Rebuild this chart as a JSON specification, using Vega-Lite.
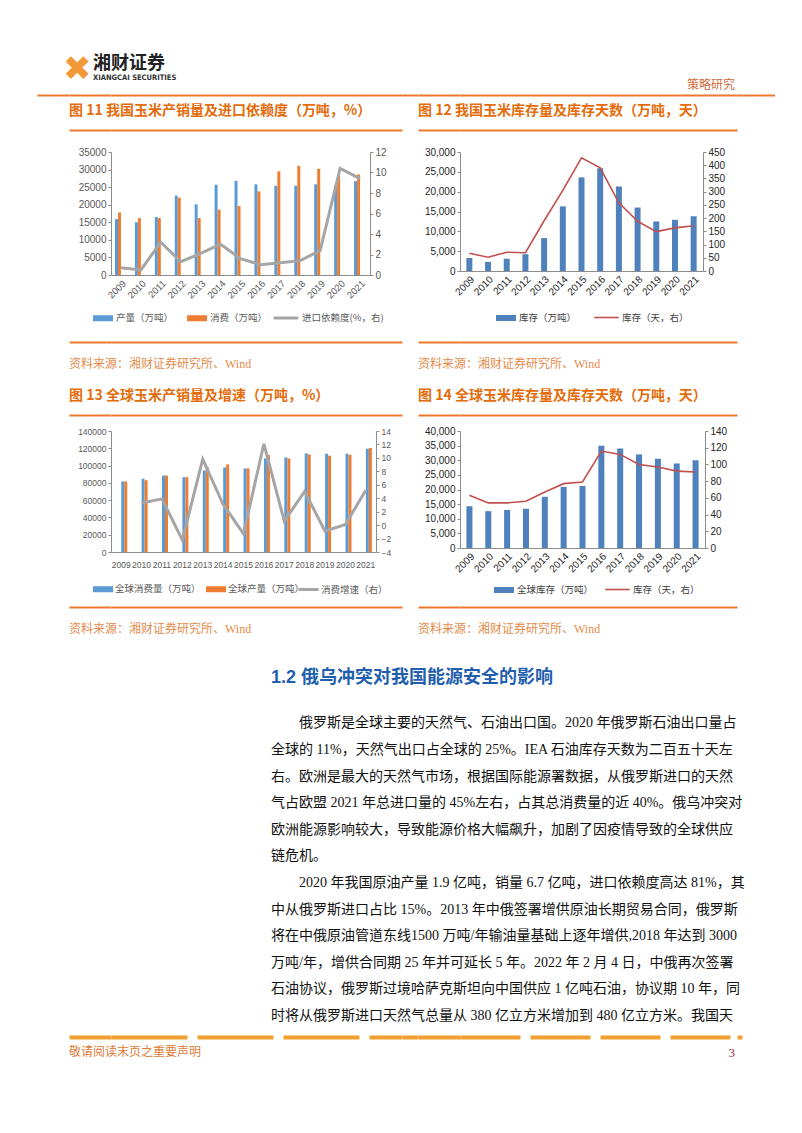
{
"$schema": "https://vega.github.io/schema/vega-lite/v6.json",
"background": "white",
"padding": 0,
"columns": 9,
"spacing": 0,
"bounds": "flush",
"align": "each",
"resolve": {"scale": {"color": "independent", "stroke": "independent"}, "legend": {"color": "independent", "stroke": "independent"}},
"datasets": {
"c1b": [
{"year":"2009","s":"产量（万吨）","v":15900},{"year":"2010","s":"产量（万吨）","v":15000},{"year":"2011","s":"产量（万吨）","v":16500},{"year":"2012","s":"产量（万吨）","v":22600},{"year":"2013","s":"产量（万吨）","v":20100},{"year":"2014","s":"产量（万吨）","v":25700},{"year":"2015","s":"产量（万吨）","v":26800},{"year":"2016","s":"产量（万吨）","v":25800},{"year":"2017","s":"产量（万吨）","v":25400},{"year":"2018","s":"产量（万吨）","v":25400},{"year":"2019","s":"产量（万吨）","v":25800},{"year":"2020","s":"产量（万吨）","v":25500},{"year":"2021","s":"产量（万吨）","v":26700},
{"year":"2009","s":"消费（万吨）","v":17800},{"year":"2010","s":"消费（万吨）","v":16200},{"year":"2011","s":"消费（万吨）","v":16200},{"year":"2012","s":"消费（万吨）","v":22000},{"year":"2013","s":"消费（万吨）","v":16200},{"year":"2014","s":"消费（万吨）","v":18600},{"year":"2015","s":"消费（万吨）","v":19600},{"year":"2016","s":"消费（万吨）","v":23800},{"year":"2017","s":"消费（万吨）","v":29500},{"year":"2018","s":"消费（万吨）","v":31100},{"year":"2019","s":"消费（万吨）","v":30200},{"year":"2020","s":"消费（万吨）","v":28200},{"year":"2021","s":"消费（万吨）","v":28600}
],
"c1l": [
{"year":"2009","s":"进口依赖度(%，右)","v":0.7},{"year":"2010","s":"进口依赖度(%，右)","v":0.5},{"year":"2011","s":"进口依赖度(%，右)","v":3.2},{"year":"2012","s":"进口依赖度(%，右)","v":1.3},{"year":"2013","s":"进口依赖度(%，右)","v":2.1},{"year":"2014","s":"进口依赖度(%，右)","v":3.0},{"year":"2015","s":"进口依赖度(%，右)","v":1.6},{"year":"2016","s":"进口依赖度(%，右)","v":1.0},{"year":"2017","s":"进口依赖度(%，右)","v":1.2},{"year":"2018","s":"进口依赖度(%，右)","v":1.4},{"year":"2019","s":"进口依赖度(%，右)","v":2.4},{"year":"2020","s":"进口依赖度(%，右)","v":10.4},{"year":"2021","s":"进口依赖度(%，右)","v":9.4}
],
"c2b": [
{"year":"2009","s":"库存（万吨）","v":3300},{"year":"2010","s":"库存（万吨）","v":2300},{"year":"2011","s":"库存（万吨）","v":3100},{"year":"2012","s":"库存（万吨）","v":4200},{"year":"2013","s":"库存（万吨）","v":8300},{"year":"2014","s":"库存（万吨）","v":16300},{"year":"2015","s":"库存（万吨）","v":23600},{"year":"2016","s":"库存（万吨）","v":25900},{"year":"2017","s":"库存（万吨）","v":21300},{"year":"2018","s":"库存（万吨）","v":16000},{"year":"2019","s":"库存（万吨）","v":12500},{"year":"2020","s":"库存（万吨）","v":12900},{"year":"2021","s":"库存（万吨）","v":13800}
],
"c2l": [
{"year":"2009","s":"库存（天，右）","v":67},{"year":"2010","s":"库存（天，右）","v":52},{"year":"2011","s":"库存（天，右）","v":71},{"year":"2012","s":"库存（天，右）","v":69},{"year":"2013","s":"库存（天，右）","v":190},{"year":"2014","s":"库存（天，右）","v":305},{"year":"2015","s":"库存（天，右）","v":428},{"year":"2016","s":"库存（天，右）","v":390},{"year":"2017","s":"库存（天，右）","v":258},{"year":"2018","s":"库存（天，右）","v":188},{"year":"2019","s":"库存（天，右）","v":149},{"year":"2020","s":"库存（天，右）","v":163},{"year":"2021","s":"库存（天，右）","v":171}
],
"c3b": [
{"year":"2009","s":"全球消费量（万吨）","v":81600},{"year":"2010","s":"全球消费量（万吨）","v":84700},{"year":"2011","s":"全球消费量（万吨）","v":88500},{"year":"2012","s":"全球消费量（万吨）","v":86600},{"year":"2013","s":"全球消费量（万吨）","v":94400},{"year":"2014","s":"全球消费量（万吨）","v":97800},{"year":"2015","s":"全球消费量（万吨）","v":96700},{"year":"2016","s":"全球消费量（万吨）","v":108300},{"year":"2017","s":"全球消费量（万吨）","v":109400},{"year":"2018","s":"全球消费量（万吨）","v":114100},{"year":"2019","s":"全球消费量（万吨）","v":113700},{"year":"2020","s":"全球消费量（万吨）","v":113700},{"year":"2021","s":"全球消费量（万吨）","v":119500},
{"year":"2009","s":"全球产量（万吨）","v":81600},{"year":"2010","s":"全球产量（万吨）","v":83100},{"year":"2011","s":"全球产量（万吨）","v":88500},{"year":"2012","s":"全球产量（万吨）","v":86600},{"year":"2013","s":"全球产量（万吨）","v":98200},{"year":"2014","s":"全球产量（万吨）","v":101300},{"year":"2015","s":"全球产量（万吨）","v":96700},{"year":"2016","s":"全球产量（万吨）","v":112100},{"year":"2017","s":"全球产量（万吨）","v":108300},{"year":"2018","s":"全球产量（万吨）","v":112900},{"year":"2019","s":"全球产量（万吨）","v":111400},{"year":"2020","s":"全球产量（万吨）","v":112500},{"year":"2021","s":"全球产量（万吨）","v":120300}
],
"c3l": [
{"year":"2010","s":"消费增速（右）","v":3.3},{"year":"2011","s":"消费增速（右）","v":3.9},{"year":"2012","s":"消费增速（右）","v":-2.2},{"year":"2013","s":"消费增速（右）","v":9.8},{"year":"2014","s":"消费增速（右）","v":3.1},{"year":"2015","s":"消费增速（右）","v":-1.3},{"year":"2016","s":"消费增速（右）","v":12.1},{"year":"2017","s":"消费增速（右）","v":0.6},{"year":"2018","s":"消费增速（右）","v":5.0},{"year":"2019","s":"消费增速（右）","v":-0.9},{"year":"2020","s":"消费增速（右）","v":0.1},{"year":"2021","s":"消费增速（右）","v":5.2}
],
"c4b": [
{"year":"2009","s":"全球库存（万吨）","v":14300},{"year":"2010","s":"全球库存（万吨）","v":12600},{"year":"2011","s":"全球库存（万吨）","v":13000},{"year":"2012","s":"全球库存（万吨）","v":13400},{"year":"2013","s":"全球库存（万吨）","v":17500},{"year":"2014","s":"全球库存（万吨）","v":20900},{"year":"2015","s":"全球库存（万吨）","v":21200},{"year":"2016","s":"全球库存（万吨）","v":35000},{"year":"2017","s":"全球库存（万吨）","v":34000},{"year":"2018","s":"全球库存（万吨）","v":32000},{"year":"2019","s":"全球库存（万吨）","v":30500},{"year":"2020","s":"全球库存（万吨）","v":28900},{"year":"2021","s":"全球库存（万吨）","v":30000}
],
"c4l": [
{"year":"2009","s":"库存（天，右）","v":63},{"year":"2010","s":"库存（天，右）","v":54},{"year":"2011","s":"库存（天，右）","v":54},{"year":"2012","s":"库存（天，右）","v":56},{"year":"2013","s":"库存（天，右）","v":67},{"year":"2014","s":"库存（天，右）","v":77},{"year":"2015","s":"库存（天，右）","v":79},{"year":"2016","s":"库存（天，右）","v":116},{"year":"2017","s":"库存（天，右）","v":112},{"year":"2018","s":"库存（天，右）","v":100},{"year":"2019","s":"库存（天，右）","v":97},{"year":"2020","s":"库存（天，右）","v":92},{"year":"2021","s":"库存（天，右）","v":91}
]
},
"concat": [
{"width": 37, "height": 130, "data": {"values": []}, "mark": "point", "encoding": {}},
{"width": 32, "height": 95, "data": {"values": []}, "mark": "point", "encoding": {"x": {"field": "v", "type": "quantitative", "scale": {"domain": [0, 1]}, "axis": {"orient": "bottom", "domainColor": "#ec7a2c", "domainWidth": 2, "labels": false, "ticks": false, "title": null}}},
 "title": {"text": "✖", "anchor": "start", "orient": "top", "offset": -87, "dx": 26, "fontSize": 34, "fontWeight": "normal", "color": "#f29a38", "font": "DejaVu Sans"}},
{"width": 42, "height": 95, "data": {"values": []}, "mark": "point", "encoding": {"x": {"field": "v", "type": "quantitative", "scale": {"domain": [0, 1]}, "axis": {"orient": "bottom", "domainColor": "#ec7a2c", "domainWidth": 2, "labels": false, "ticks": false, "title": null}}},
 "title": {"text": "湘财证券", "subtitle": "XIANGCAI SECURITIES", "anchor": "start", "orient": "top", "offset": -81, "dx": 24, "fontSize": 18, "fontWeight": "bold", "color": "#222222", "font": "Noto Sans CJK SC", "subtitleFont": "Liberation Sans Narrow, DejaVu Sans Condensed, sans-serif", "subtitleFontSize": 7.5, "subtitleFontWeight": "bold", "subtitleColor": "#333333", "subtitlePadding": 1}},
{"width": 291, "height": 95, "data": {"values": []}, "mark": "point", "encoding": {"x": {"field": "v", "type": "quantitative", "scale": {"domain": [0, 1]}, "axis": {"orient": "bottom", "domainColor": "#ec7a2c", "domainWidth": 2, "labels": false, "ticks": false, "title": null}}}},
{"width": 16, "height": 95, "data": {"values": []}, "mark": "point", "encoding": {"x": {"field": "v", "type": "quantitative", "scale": {"domain": [0, 1]}, "axis": {"orient": "bottom", "domainColor": "#ec7a2c", "domainWidth": 2, "labels": false, "ticks": false, "title": null}}}},
{"width": 42, "height": 95, "data": {"values": []}, "mark": "point", "encoding": {"x": {"field": "v", "type": "quantitative", "scale": {"domain": [0, 1]}, "axis": {"orient": "bottom", "domainColor": "#ec7a2c", "domainWidth": 2, "labels": false, "ticks": false, "title": null}}}},
{"width": 277, "height": 95, "data": {"values": []}, "mark": "point", "encoding": {"x": {"field": "v", "type": "quantitative", "scale": {"domain": [0, 1]}, "axis": {"orient": "bottom", "domainColor": "#ec7a2c", "domainWidth": 2, "labels": false, "ticks": false, "title": null}}},
 "title": {"text": "策略研究", "anchor": "end", "orient": "top", "offset": -92, "dx": -2, "fontSize": 12, "fontWeight": "normal", "color": "#cf6b3a", "font": "Noto Sans CJK SC"}},
{"width": 5, "height": 95, "data": {"values": []}, "mark": "point", "encoding": {"x": {"field": "v", "type": "quantitative", "scale": {"domain": [0, 1]}, "axis": {"orient": "bottom", "domainColor": "#ec7a2c", "domainWidth": 2, "labels": false, "ticks": false, "title": null}}}},
{"width": 33, "height": 95, "data": {"values": []}, "mark": "point", "encoding": {"x": {"field": "v", "type": "quantitative", "scale": {"domain": [0, 1]}, "axis": {"orient": "bottom", "domainColor": "#ec7a2c", "domainWidth": 2, "labels": false, "ticks": false, "title": null}}}},

{"width": 37, "height": 22, "data": {"values": []}, "mark": "point", "encoding": {}},
{"width": 32, "height": 1, "data": {"values": []}, "mark": "point", "encoding": {}},
{"width": 42, "height": 1, "data": {"values": []}, "mark": "point", "encoding": {"x": {"field": "v", "type": "quantitative", "scale": {"domain": [0, 1]}, "axis": {"orient": "top", "title": null}}},
 "title": {"text": "图 11 我国玉米产销量及进口依赖度（万吨，%）", "anchor": "start", "orient": "top", "offset": 12, "fontSize": 14, "fontWeight": "bold", "color": "#e46c0a", "font": "Noto Sans CJK SC"}},
{"width": 291, "height": 1, "data": {"values": []}, "mark": "point", "encoding": {"x": {"field": "v", "type": "quantitative", "scale": {"domain": [0, 1]}, "axis": {"orient": "top", "title": null}}}},
{"width": 16, "height": 1, "data": {"values": []}, "mark": "point", "encoding": {}},
{"width": 42, "height": 1, "data": {"values": []}, "mark": "point", "encoding": {"x": {"field": "v", "type": "quantitative", "scale": {"domain": [0, 1]}, "axis": {"orient": "top", "title": null}}},
 "title": {"text": "图 12 我国玉米库存量及库存天数（万吨，天）", "anchor": "start", "orient": "top", "offset": 12, "fontSize": 14, "fontWeight": "bold", "color": "#e46c0a", "font": "Noto Sans CJK SC"}},
{"width": 277, "height": 1, "data": {"values": []}, "mark": "point", "encoding": {"x": {"field": "v", "type": "quantitative", "scale": {"domain": [0, 1]}, "axis": {"orient": "top", "title": null}}}},
{"width": 5, "height": 1, "data": {"values": []}, "mark": "point", "encoding": {}},
{"width": 33, "height": 1, "data": {"values": []}, "mark": "point", "encoding": {}},

{"width": 37, "height": 190, "data": {"values": []}, "mark": "point", "encoding": {}},
{"width": 32, "height": 1, "data": {"values": []}, "mark": "point", "encoding": {}},
{"width": 42, "height": 1, "data": {"values": []}, "mark": "point", "encoding": {}},
{"width": 259, "height": 123,
 "layer": [
  {"data": {"name": "c1b"}, "mark": {"type": "bar"},
   "encoding": {
    "x": {"field": "year", "type": "ordinal", "scale": {"paddingInner": 0.4, "paddingOuter": 0.2}, "axis": {"title": null, "labelAngle": -45, "labelFontSize": 9.5, "ticks": false, "labelPadding": 3}},
    "xOffset": {"field": "s", "type": "nominal", "scale": {"domain": ["产量（万吨）", "消费（万吨）"], "paddingInner": 0, "paddingOuter": 0}},
    "y": {"field": "v", "type": "quantitative", "scale": {"domain": [0, 35000], "nice": false}, "axis": {"title": null, "values": [0, 5000, 10000, 15000, 20000, 25000, 30000, 35000], "format": "d", "labelFontSize": 10}},
    "color": {"field": "s", "type": "nominal", "scale": {"domain": ["产量（万吨）", "消费（万吨）"], "range": ["#5b9bd5", "#ed7d31"]},
      "legend": {"orient": "none", "legendX": -19, "legendY": 155, "direction": "horizontal", "title": null, "symbolType": "M-1,-0.3H1V0.3H-1Z", "symbolSize": 400, "columnPadding": 12, "labelOffset": 2}}
   }},
  {"data": {"name": "c1l"}, "mark": {"type": "line", "strokeWidth": 3},
   "encoding": {
    "x": {"field": "year", "type": "ordinal"},
    "y": {"field": "v", "type": "quantitative", "scale": {"domain": [0, 12], "nice": false}, "axis": {"orient": "right", "title": null, "values": [0, 2, 4, 6, 8, 10, 12], "labelFontSize": 10}},
    "stroke": {"field": "s", "type": "nominal", "scale": {"range": ["#a5a5a5"]},
      "legend": {"orient": "none", "legendX": 161, "legendY": 152, "title": null, "symbolType": "stroke", "symbolSize": 600, "symbolStrokeWidth": 3, "labelOffset": 2}}
   }}
 ],
 "resolve": {"scale": {"y": "independent"}}},
{"width": 16, "height": 1, "data": {"values": []}, "mark": "point", "encoding": {}},
{"width": 42, "height": 1, "data": {"values": []}, "mark": "point", "encoding": {}},
{"width": 243, "height": 119,
 "layer": [
  {"data": {"name": "c2b"}, "mark": {"type": "bar"},
   "encoding": {
    "x": {"field": "year", "type": "ordinal", "scale": {"paddingInner": 0.68, "paddingOuter": 0.34}, "axis": {"title": null, "labelAngle": -45, "labelFontSize": 10, "ticks": false, "labelPadding": 3, "labelColor": "#262626"}},
    "y": {"field": "v", "type": "quantitative", "scale": {"domain": [0, 30000], "nice": false}, "axis": {"title": null, "values": [0, 5000, 10000, 15000, 20000, 25000, 30000], "format": ",d", "labelFontSize": 10, "labelColor": "#262626"}},
    "color": {"field": "s", "type": "nominal", "scale": {"range": ["#4f81bd"]},
      "legend": {"orient": "none", "legendX": 35, "legendY": 155, "direction": "horizontal", "title": null, "symbolType": "M-1,-0.3H1V0.3H-1Z", "symbolSize": 400, "labelOffset": 2, "labelColor": "#404040"}}
   }},
  {"data": {"name": "c2l"}, "mark": {"type": "line", "strokeWidth": 1.6},
   "encoding": {
    "x": {"field": "year", "type": "ordinal"},
    "y": {"field": "v", "type": "quantitative", "scale": {"domain": [0, 450], "nice": false}, "axis": {"orient": "right", "title": null, "values": [0, 50, 100, 150, 200, 250, 300, 350, 400, 450], "labelFontSize": 10, "labelColor": "#262626"}},
    "stroke": {"field": "s", "type": "nominal", "scale": {"range": ["#c0504d"]},
      "legend": {"orient": "none", "legendX": 133, "legendY": 152, "title": null, "symbolType": "stroke", "symbolSize": 600, "symbolStrokeWidth": 1.6, "labelOffset": 2, "labelColor": "#404040"}}
   }}
 ],
 "resolve": {"scale": {"y": "independent"}}},
{"width": 5, "height": 1, "data": {"values": []}, "mark": "point", "encoding": {}},
{"width": 33, "height": 1, "data": {"values": []}, "mark": "point", "encoding": {}},

{"width": 37, "height": 73, "data": {"values": []}, "mark": "point", "encoding": {}},
{"width": 32, "height": 1, "data": {"values": []}, "mark": "point", "encoding": {}},
{"width": 42, "height": 1, "data": {"values": []}, "mark": "point", "encoding": {"x": {"field": "v", "type": "quantitative", "scale": {"domain": [0, 1]}, "axis": {"orient": "top", "title": null}}},
 "title": {"text": "资料来源：湘财证券研究所、Wind", "anchor": "start", "orient": "bottom", "offset": 15.5, "fontSize": 12, "fontWeight": "normal", "color": "#e38b4c", "font": "Liberation Serif, Noto Sans CJK SC"}},
{"width": 291, "height": 1, "data": {"values": []}, "mark": "point", "encoding": {"x": {"field": "v", "type": "quantitative", "scale": {"domain": [0, 1]}, "axis": {"orient": "top", "title": null}}}},
{"width": 16, "height": 1, "data": {"values": []}, "mark": "point", "encoding": {}},
{"width": 42, "height": 1, "data": {"values": []}, "mark": "point", "encoding": {"x": {"field": "v", "type": "quantitative", "scale": {"domain": [0, 1]}, "axis": {"orient": "top", "title": null}}},
 "title": {"text": "资料来源：湘财证券研究所、Wind", "anchor": "start", "orient": "bottom", "offset": 15.5, "fontSize": 12, "fontWeight": "normal", "color": "#e38b4c", "font": "Liberation Serif, Noto Sans CJK SC"}},
{"width": 277, "height": 1, "data": {"values": []}, "mark": "point", "encoding": {"x": {"field": "v", "type": "quantitative", "scale": {"domain": [0, 1]}, "axis": {"orient": "top", "title": null}}}},
{"width": 5, "height": 1, "data": {"values": []}, "mark": "point", "encoding": {}},
{"width": 33, "height": 1, "data": {"values": []}, "mark": "point", "encoding": {}},

{"width": 37, "height": 16, "data": {"values": []}, "mark": "point", "encoding": {}},
{"width": 32, "height": 1, "data": {"values": []}, "mark": "point", "encoding": {}},
{"width": 42, "height": 1, "data": {"values": []}, "mark": "point", "encoding": {"x": {"field": "v", "type": "quantitative", "scale": {"domain": [0, 1]}, "axis": {"orient": "top", "title": null}}},
 "title": {"text": "图 13 全球玉米产销量及增速（万吨，%）", "anchor": "start", "orient": "top", "offset": 12, "fontSize": 14, "fontWeight": "bold", "color": "#e46c0a", "font": "Noto Sans CJK SC"}},
{"width": 291, "height": 1, "data": {"values": []}, "mark": "point", "encoding": {"x": {"field": "v", "type": "quantitative", "scale": {"domain": [0, 1]}, "axis": {"orient": "top", "title": null}}}},
{"width": 16, "height": 1, "data": {"values": []}, "mark": "point", "encoding": {}},
{"width": 42, "height": 1, "data": {"values": []}, "mark": "point", "encoding": {"x": {"field": "v", "type": "quantitative", "scale": {"domain": [0, 1]}, "axis": {"orient": "top", "title": null}}},
 "title": {"text": "图 14 全球玉米库存量及库存天数（万吨，天）", "anchor": "start", "orient": "top", "offset": 12, "fontSize": 14, "fontWeight": "bold", "color": "#e46c0a", "font": "Noto Sans CJK SC"}},
{"width": 277, "height": 1, "data": {"values": []}, "mark": "point", "encoding": {"x": {"field": "v", "type": "quantitative", "scale": {"domain": [0, 1]}, "axis": {"orient": "top", "title": null}}}},
{"width": 5, "height": 1, "data": {"values": []}, "mark": "point", "encoding": {}},
{"width": 33, "height": 1, "data": {"values": []}, "mark": "point", "encoding": {}},

{"width": 37, "height": 176, "data": {"values": []}, "mark": "point", "encoding": {}},
{"width": 32, "height": 1, "data": {"values": []}, "mark": "point", "encoding": {}},
{"width": 42, "height": 1, "data": {"values": []}, "mark": "point", "encoding": {}},
{"width": 265, "height": 121,
 "layer": [
  {"data": {"name": "c3b"}, "mark": {"type": "bar"},
   "encoding": {
    "x": {"field": "year", "type": "ordinal", "scale": {"paddingInner": 0.42, "paddingOuter": 0.21}, "axis": {"title": null, "labelAngle": 0, "labelFontSize": 8.5, "ticks": false, "labelPadding": 8}},
    "xOffset": {"field": "s", "type": "nominal", "scale": {"domain": ["全球消费量（万吨）", "全球产量（万吨）"], "paddingInner": 0, "paddingOuter": 0}},
    "y": {"field": "v", "type": "quantitative", "scale": {"domain": [0, 140000], "nice": false}, "axis": {"title": null, "values": [0, 20000, 40000, 60000, 80000, 100000, 120000, 140000], "format": "d", "labelFontSize": 8.5}},
    "color": {"field": "s", "type": "nominal", "scale": {"domain": ["全球消费量（万吨）", "全球产量（万吨）"], "range": ["#5b9bd5", "#ed7d31"]},
      "legend": {"orient": "none", "legendX": -19, "legendY": 147, "direction": "horizontal", "title": null, "symbolType": "M-1,-0.3H1V0.3H-1Z", "symbolSize": 400, "columnPadding": 4, "labelOffset": 1}}
   }},
  {"data": {"name": "c3l"}, "mark": {"type": "line", "strokeWidth": 3},
   "encoding": {
    "x": {"field": "year", "type": "ordinal"},
    "y": {"field": "v", "type": "quantitative", "scale": {"domain": [-4, 14], "nice": false, "zero": false}, "axis": {"orient": "right", "title": null, "values": [-4, -2, 0, 2, 4, 6, 8, 10, 12, 14], "labelFontSize": 8.5}},
    "stroke": {"field": "s", "type": "nominal", "scale": {"range": ["#a5a5a5"]},
      "legend": {"orient": "none", "legendX": 186, "legendY": 147, "title": null, "symbolType": "stroke", "symbolSize": 400, "symbolStrokeWidth": 3, "labelOffset": 1}}
   }}
 ],
 "resolve": {"scale": {"y": "independent"}}},
{"width": 16, "height": 1, "data": {"values": []}, "mark": "point", "encoding": {}},
{"width": 42, "height": 1, "data": {"values": []}, "mark": "point", "encoding": {}},
{"width": 245, "height": 117,
 "layer": [
  {"data": {"name": "c4b"}, "mark": {"type": "bar"},
   "encoding": {
    "x": {"field": "year", "type": "ordinal", "scale": {"paddingInner": 0.68, "paddingOuter": 0.34}, "axis": {"title": null, "labelAngle": -45, "labelFontSize": 10, "ticks": false, "labelPadding": 3, "labelColor": "#262626"}},
    "y": {"field": "v", "type": "quantitative", "scale": {"domain": [0, 40000], "nice": false}, "axis": {"title": null, "values": [0, 5000, 10000, 15000, 20000, 25000, 30000, 35000, 40000], "format": ",d", "labelFontSize": 10, "labelColor": "#262626"}},
    "color": {"field": "s", "type": "nominal", "scale": {"range": ["#4f81bd"]},
      "legend": {"orient": "none", "legendX": 33, "legendY": 148, "direction": "horizontal", "title": null, "symbolType": "M-1,-0.3H1V0.3H-1Z", "symbolSize": 400, "labelOffset": 2, "labelColor": "#404040"}}
   }},
  {"data": {"name": "c4l"}, "mark": {"type": "line", "strokeWidth": 1.6},
   "encoding": {
    "x": {"field": "year", "type": "ordinal"},
    "y": {"field": "v", "type": "quantitative", "scale": {"domain": [0, 140], "nice": false}, "axis": {"orient": "right", "title": null, "values": [0, 20, 40, 60, 80, 100, 120, 140], "labelFontSize": 10, "labelColor": "#262626"}},
    "stroke": {"field": "s", "type": "nominal", "scale": {"range": ["#c0504d"]},
      "legend": {"orient": "none", "legendX": 144, "legendY": 145, "title": null, "symbolType": "stroke", "symbolSize": 600, "symbolStrokeWidth": 1.6, "labelOffset": 2, "labelColor": "#404040"}}
   }}
 ],
 "resolve": {"scale": {"y": "independent"}}},
{"width": 5, "height": 1, "data": {"values": []}, "mark": "point", "encoding": {}},
{"width": 33, "height": 1, "data": {"values": []}, "mark": "point", "encoding": {}},

{"width": 37, "height": 430, "data": {"values": []}, "mark": "point", "encoding": {}},
{"width": 32, "height": 1, "data": {"values": []}, "mark": "point", "encoding": {}},
{"width": 42, "height": 1, "data": {"values": []}, "mark": "point", "encoding": {"x": {"field": "v", "type": "quantitative", "scale": {"domain": [0, 1]}, "axis": {"orient": "top", "title": null}}},
 "title": {"text": "资料来源：湘财证券研究所、Wind", "anchor": "start", "orient": "bottom", "offset": 15.5, "fontSize": 12, "fontWeight": "normal", "color": "#e38b4c", "font": "Liberation Serif, Noto Sans CJK SC"}},
{"width": 291, "height": 1, "data": {"values": []}, "mark": "point", "encoding": {"x": {"field": "v", "type": "quantitative", "scale": {"domain": [0, 1]}, "axis": {"orient": "top", "title": null}}}},
{"width": 16, "height": 1, "data": {"values": []}, "mark": "point", "encoding": {}},
{"width": 42, "height": 1, "data": {"values": []}, "mark": "point", "encoding": {"x": {"field": "v", "type": "quantitative", "scale": {"domain": [0, 1]}, "axis": {"orient": "top", "title": null}}},
 "title": {"text": "资料来源：湘财证券研究所、Wind", "anchor": "start", "orient": "bottom", "offset": 15.5, "fontSize": 12, "fontWeight": "normal", "color": "#e38b4c", "font": "Liberation Serif, Noto Sans CJK SC"}},
{"width": 277, "height": 1, "data": {"values": []}, "mark": "point", "encoding": {"x": {"field": "v", "type": "quantitative", "scale": {"domain": [0, 1]}, "axis": {"orient": "top", "title": null}}}},
{"width": 5, "height": 1, "data": {"values": []}, "mark": "point", "encoding": {}},
{"width": 33, "height": 1, "data": {"values": []}, "mark": "point", "encoding": {}},

{"width": 37, "height": 96, "data": {"values": []}, "mark": "point", "encoding": {}},
{"width": 32, "height": 1, "data": {"values": []}, "mark": "point", "encoding": {}},
{"width": 42, "height": 1, "data": {"values": []}, "mark": "point", "encoding": {"x": {"field": "v", "type": "quantitative", "scale": {"domain": [0, 1]}, "axis": {"orient": "top", "title": null, "domainColor": "#f0a030", "domainWidth": 4}}},
 "title": {"text": "敬请阅读末页之重要声明", "anchor": "start", "orient": "bottom", "offset": 9, "fontSize": 12, "fontWeight": "normal", "color": "#e07b39", "font": "Noto Sans CJK SC"}},
{"width": 291, "height": 1, "data": {"values": []}, "mark": "point", "encoding": {"x": {"field": "v", "type": "quantitative", "scale": {"domain": [0, 1]}, "axis": {"orient": "top", "title": null, "domainColor": "#f0a030", "domainWidth": 4, "domainDash": [76, 10]}}},
 "title": {"text": "1.2 俄乌冲突对我国能源安全的影响",
   "subtitle": ["\u200b\u3000\u3000俄罗斯是全球主要的天然气、石油出口国。2020 年俄罗斯石油出口量占", "全球的 11%，天然气出口占全球的 25%。IEA 石油库存天数为二百五十天左", "右。欧洲是最大的天然气市场，根据国际能源署数据，从俄罗斯进口的天然", "气占欧盟 2021 年总进口量的 45%左右，占其总消费量的近 40%。俄乌冲突对", "欧洲能源影响较大，导致能源价格大幅飙升，加剧了因疫情导致的全球供应", "链危机。", "\u200b\u3000\u30002020 年我国原油产量 1.9 亿吨，销量 6.7 亿吨，进口依赖度高达 81%，其", "中从俄罗斯进口占比 15%。2013 年中俄签署增供原油长期贸易合同，俄罗斯", "将在中俄原油管道东线1500 万吨/年输油量基础上逐年增供,2018 年达到 3000", "万吨/年，增供合同期 25 年并可延长 5 年。2022 年 2 月 4 日，中俄再次签署", "石油协议，俄罗斯过境哈萨克斯坦向中国供应 1 亿吨石油，协议期 10 年，同", "时将从俄罗斯进口天然气总量从 380 亿立方米增加到 480 亿立方米。我国天"],
   "anchor": "start", "orient": "top", "offset": 14, "dx": 160, "fontSize": 18, "fontWeight": "bold", "color": "#1f5fae", "font": "Liberation Sans, Noto Sans CJK SC",
   "subtitleFont": "Liberation Serif, Noto Sans CJK SC", "subtitleFontSize": 14, "subtitleColor": "#111111", "subtitleLineHeight": 26.6, "subtitlePadding": 29}},
{"width": 16, "height": 1, "data": {"values": []}, "mark": "point", "encoding": {"x": {"field": "v", "type": "quantitative", "scale": {"domain": [0, 1]}, "axis": {"orient": "top", "title": null, "domainColor": "#f0a030", "domainWidth": 4}}}},
{"width": 42, "height": 1, "data": {"values": []}, "mark": "point", "encoding": {"x": {"field": "v", "type": "quantitative", "scale": {"domain": [0, 1]}, "axis": {"orient": "top", "title": null, "domainColor": "#f0a030", "domainWidth": 4}}}},
{"width": 277, "height": 1, "data": {"values": []}, "mark": "point", "encoding": {"x": {"field": "v", "type": "quantitative", "scale": {"domain": [0, 1]}, "axis": {"orient": "top", "title": null, "domainColor": "#f0a030", "domainWidth": 4, "domainDash": [60, 10]}}},
 "title": {"text": "3", "anchor": "end", "orient": "bottom", "offset": 9, "dx": -2, "fontSize": 13, "fontWeight": "normal", "color": "#a0303a", "font": "Liberation Serif"}},
{"width": 5, "height": 1, "data": {"values": []}, "mark": "point", "encoding": {"x": {"field": "v", "type": "quantitative", "scale": {"domain": [0, 1]}, "axis": {"orient": "top", "title": null, "domainColor": "#f0a030", "domainWidth": 4}}}},
{"width": 33, "height": 1, "data": {"values": []}, "mark": "point", "encoding": {}}
],
"config": {
 "view": {"stroke": null},
 "axis": {"grid": false, "labelFont": "Liberation Sans", "labelColor": "#595959", "domainColor": "#8c8c8c", "tickColor": "#8c8c8c", "tickSize": 3},
 "axisTop": {"domainColor": "#ec7a2c", "domainWidth": 2, "labels": false, "ticks": false},
 "legend": {"labelFont": "Noto Sans CJK SC", "labelFontSize": 9.5, "labelColor": "#595959", "padding": 0},
 "title": {"font": "Noto Sans CJK SC"}
}
}
